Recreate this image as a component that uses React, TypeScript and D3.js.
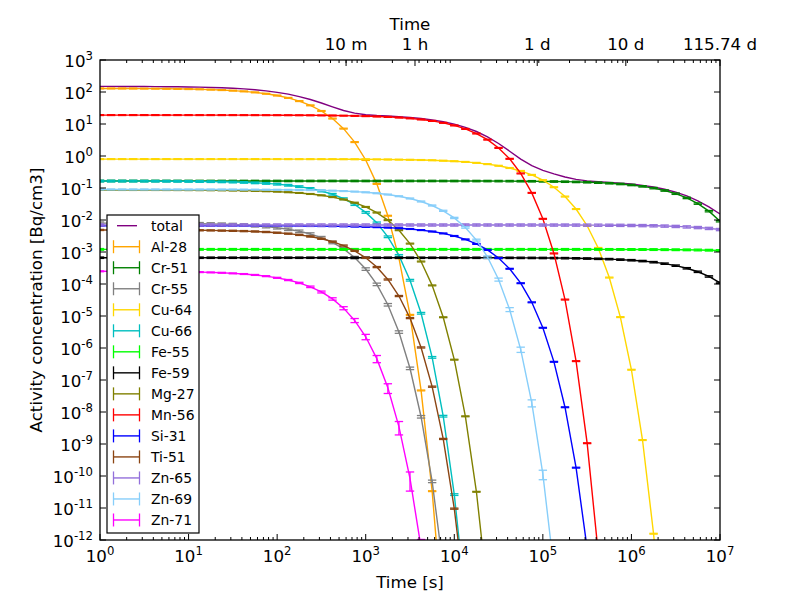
import React from "react";
import * as d3 from "d3";

// Sample times [s] shared by every nuclide series
const TIME_S = [
  1, 1.334, 1.778, 2.371, 3.162, 4.217, 5.623, 7.499,
  10, 13.34, 17.78, 23.71, 31.62, 42.17, 56.23, 74.99,
  100, 133.4, 177.8, 237.1, 316.2, 421.7, 562.3, 749.9,
  1000, 1334, 1778, 2371, 3162, 4217, 5623, 7499,
  1e4, 1.334e4, 1.778e4, 2.371e4, 3.162e4, 4.217e4, 5.623e4, 7.499e4,
  1e5, 1.334e5, 1.778e5, 2.371e5, 3.162e5, 4.217e5, 5.623e5, 7.499e5,
  1e6, 1.334e6, 1.778e6, 2.371e6, 3.162e6, 4.217e6, 5.623e6, 7.499e6,
  1e7,
];

// Activity concentrations [Bq/cm3] at TIME_S
const TOTAL = [
  149.6, 149.4, 149.1, 148.7, 148.2, 147.5, 146.6, 145.4,
  143.8, 141.7, 138.9, 135.3, 130.7, 124.9, 117.5, 108.5,
  97.7, 85.5, 72.0, 58.2, 45.3, 34.4, 26.5, 21.8,
  19.47, 18.39, 17.69, 16.93, 15.99, 14.84, 13.43, 11.76,
  9.89, 7.86, 5.83, 3.97, 2.46, 1.41, 0.798, 0.498,
  0.356, 0.2754, 0.2204, 0.1857, 0.1668, 0.1569, 0.1499, 0.1422,
  0.1328, 0.1212, 0.1075, 0.0916, 0.0743, 0.0565, 0.0398, 0.0257,
  0.0154,
];

const AL_28 = [
  129.3, 129.1, 128.8, 128.4, 127.9, 127.2, 126.3, 125.1,
  123.5, 121.4, 118.6, 115.0, 110.4, 104.6, 97.3, 88.3,
  77.6, 65.4, 52.0, 38.3, 25.5, 14.8, 7.17, 2.72,
  0.751, 0.1345, 0.01359, 6.40e-4, 1.085e-5, 4.72e-8, 3.36e-11, 2.12e-15,
];

const CR_51 = [
  0.166, 0.166, 0.166, 0.166, 0.166, 0.166, 0.166, 0.166,
  0.166, 0.166, 0.166, 0.166, 0.166, 0.166, 0.166, 0.166,
  0.166, 0.166, 0.166, 0.166, 0.166, 0.166, 0.166, 0.166,
  0.166, 0.166, 0.166, 0.166, 0.166, 0.166, 0.166, 0.1656,
  0.1655, 0.1654, 0.1651, 0.1649, 0.1645, 0.1640, 0.1633, 0.1624,
  0.1613, 0.1597, 0.1577, 0.1550, 0.1515, 0.1469, 0.1411, 0.1336,
  0.1243, 0.1128, 0.0992, 0.0835, 0.0664, 0.0489, 0.0326, 0.0189,
  9.17e-3,
];

const CR_55 = [
  7.97e-3, 7.96e-3, 7.95e-3, 7.94e-3, 7.92e-3, 7.89e-3, 7.85e-3, 7.80e-3,
  7.74e-3, 7.66e-3, 7.54e-3, 7.40e-3, 7.21e-3, 6.96e-3, 6.64e-3, 6.24e-3,
  5.75e-3, 5.15e-3, 4.45e-3, 3.65e-3, 2.81e-3, 1.99e-3, 1.25e-3, 6.72e-4,
  2.94e-4, 9.77e-5, 2.25e-5, 3.16e-6, 2.32e-7, 7.11e-9, 6.82e-11, 1.39e-13,
];

const CU_64 = [
  0.800, 0.800, 0.800, 0.800, 0.800, 0.800, 0.800, 0.800,
  0.800, 0.800, 0.800, 0.800, 0.800, 0.800, 0.799, 0.799,
  0.799, 0.798, 0.798, 0.797, 0.796, 0.795, 0.793, 0.791,
  0.788, 0.784, 0.779, 0.772, 0.763, 0.750, 0.735, 0.714,
  0.687, 0.654, 0.611, 0.558, 0.495, 0.422, 0.341, 0.257,
  0.176, 0.1060, 0.0540, 0.0220, 6.62e-3, 1.34e-3, 1.59e-4, 9.24e-6,
  2.09e-7, 1.33e-9, 1.57e-12, 1.9e-16,
];

const CU_66 = [
  0.1646, 0.1645, 0.1643, 0.1641, 0.1638, 0.1634, 0.1629, 0.1622,
  0.1613, 0.1601, 0.1585, 0.1564, 0.1536, 0.1500, 0.1453, 0.1393,
  0.1317, 0.1221, 0.1105, 0.0966, 0.0808, 0.0637, 0.0464, 0.0304,
  0.01729, 8.15e-3, 2.99e-3, 7.84e-4, 1.315e-4, 1.22e-5, 5.10e-7, 7.41e-9,
  2.63e-11, 1.42e-14,
];

const FE_55 = [
  1.21e-3, 1.21e-3, 1.21e-3, 1.21e-3, 1.21e-3, 1.21e-3, 1.21e-3, 1.21e-3,
  1.21e-3, 1.21e-3, 1.21e-3, 1.21e-3, 1.21e-3, 1.21e-3, 1.21e-3, 1.21e-3,
  1.21e-3, 1.21e-3, 1.21e-3, 1.21e-3, 1.21e-3, 1.21e-3, 1.21e-3, 1.21e-3,
  1.21e-3, 1.21e-3, 1.21e-3, 1.21e-3, 1.21e-3, 1.21e-3, 1.21e-3, 1.21e-3,
  1.21e-3, 1.21e-3, 1.21e-3, 1.21e-3, 1.21e-3, 1.21e-3, 1.21e-3, 1.21e-3,
  1.209e-3, 1.208e-3, 1.208e-3, 1.208e-3, 1.207e-3, 1.206e-3, 1.205e-3, 1.203e-3,
  1.200e-3, 1.197e-3, 1.193e-3, 1.187e-3, 1.180e-3, 1.170e-3, 1.157e-3, 1.140e-3,
  1.117e-3,
];

const FE_59 = [
  6.63e-4, 6.63e-4, 6.63e-4, 6.63e-4, 6.63e-4, 6.63e-4, 6.63e-4, 6.63e-4,
  6.63e-4, 6.63e-4, 6.63e-4, 6.63e-4, 6.63e-4, 6.63e-4, 6.63e-4, 6.63e-4,
  6.63e-4, 6.63e-4, 6.63e-4, 6.63e-4, 6.63e-4, 6.63e-4, 6.63e-4, 6.63e-4,
  6.63e-4, 6.63e-4, 6.63e-4, 6.63e-4, 6.62e-4, 6.62e-4, 6.62e-4, 6.62e-4,
  6.62e-4, 6.61e-4, 6.61e-4, 6.60e-4, 6.59e-4, 6.58e-4, 6.56e-4, 6.54e-4,
  6.51e-4, 6.47e-4, 6.42e-4, 6.35e-4, 6.26e-4, 6.14e-4, 5.99e-4, 5.79e-4,
  5.54e-4, 5.21e-4, 4.81e-4, 4.32e-4, 3.75e-4, 3.10e-4, 2.41e-4, 1.72e-4,
  1.09e-4,
];

const MG_27 = [
  0.0869, 0.0869, 0.0868, 0.0867, 0.0867, 0.0866, 0.0864, 0.0862,
  0.0859, 0.0856, 0.0851, 0.0845, 0.0837, 0.0826, 0.0812, 0.0794,
  0.0770, 0.0739, 0.0700, 0.0651, 0.0591, 0.0520, 0.0438, 0.0348,
  0.0256, 0.01707, 9.91e-3, 4.80e-3, 1.83e-3, 5.04e-4, 9.05e-5, 9.15e-6,
  4.31e-7, 7.34e-9, 3.21e-11, 2.29e-14,
];

const MN_56 = [
  19.0, 19.0, 19.0, 19.0, 19.0, 19.0, 19.0, 19.0,
  18.99, 18.98, 18.97, 18.97, 18.96, 18.94, 18.92, 18.89,
  18.86, 18.81, 18.75, 18.67, 18.56, 18.41, 18.22, 17.97,
  17.63, 17.20, 16.64, 15.92, 15.00, 13.87, 12.49, 10.85,
  9.01, 7.02, 5.04, 3.24, 1.79, 0.816, 0.285, 0.0704,
  0.01087, 9.02e-4, 3.26e-5, 3.89e-7, 1.06e-9, 4.03e-13,
];

const SI_31 = [
  6.60e-3, 6.60e-3, 6.60e-3, 6.60e-3, 6.60e-3, 6.60e-3, 6.60e-3, 6.60e-3,
  6.60e-3, 6.60e-3, 6.59e-3, 6.59e-3, 6.58e-3, 6.58e-3, 6.57e-3, 6.56e-3,
  6.55e-3, 6.54e-3, 6.51e-3, 6.49e-3, 6.45e-3, 6.40e-3, 6.33e-3, 6.25e-3,
  6.13e-3, 5.98e-3, 5.79e-3, 5.55e-3, 5.24e-3, 4.84e-3, 4.37e-3, 3.81e-3,
  3.17e-3, 2.48e-3, 1.79e-3, 1.16e-3, 6.48e-4, 2.99e-4, 1.06e-4, 2.68e-5,
  4.28e-6, 3.70e-7, 1.41e-8, 1.82e-10, 5.46e-13,
];

const TI_51 = [
  4.89e-3, 4.89e-3, 4.88e-3, 4.88e-3, 4.87e-3, 4.86e-3, 4.85e-3, 4.83e-3,
  4.80e-3, 4.77e-3, 4.73e-3, 4.67e-3, 4.60e-3, 4.50e-3, 4.38e-3, 4.22e-3,
  4.01e-3, 3.75e-3, 3.43e-3, 3.05e-3, 2.60e-3, 2.10e-3, 1.59e-3, 1.089e-3,
  6.59e-4, 3.38e-4, 1.384e-4, 4.21e-5, 8.62e-6, 1.040e-6, 6.19e-8, 1.44e-9,
  9.54e-12, 1.19e-14,
];

const ZN_65 = [
  7.00e-3, 7.00e-3, 7.00e-3, 7.00e-3, 7.00e-3, 7.00e-3, 7.00e-3, 7.00e-3,
  7.00e-3, 7.00e-3, 7.00e-3, 7.00e-3, 7.00e-3, 7.00e-3, 7.00e-3, 7.00e-3,
  7.00e-3, 7.00e-3, 7.00e-3, 7.00e-3, 7.00e-3, 7.00e-3, 7.00e-3, 7.00e-3,
  7.00e-3, 7.00e-3, 7.00e-3, 7.00e-3, 7.00e-3, 7.00e-3, 7.00e-3, 7.00e-3,
  7.00e-3, 7.00e-3, 7.00e-3, 7.00e-3, 6.99e-3, 6.99e-3, 6.99e-3, 6.99e-3,
  6.98e-3, 6.97e-3, 6.96e-3, 6.95e-3, 6.93e-3, 6.90e-3, 6.87e-3, 6.83e-3,
  6.77e-3, 6.70e-3, 6.60e-3, 6.47e-3, 6.31e-3, 6.09e-3, 5.82e-3, 5.47e-3,
  5.04e-3,
];

const ZN_69 = [
  0.0900, 0.0900, 0.0900, 0.0900, 0.0899, 0.0899, 0.0899, 0.0899,
  0.0898, 0.0898, 0.0897, 0.0896, 0.0894, 0.0892, 0.0890, 0.0886,
  0.0882, 0.0876, 0.0868, 0.0857, 0.0844, 0.0826, 0.0802, 0.0772,
  0.0733, 0.0685, 0.0625, 0.0554, 0.0471, 0.0379, 0.0284, 0.0194,
  0.01161, 5.86e-3, 2.36e-3, 6.99e-4, 1.38e-4, 1.60e-5, 8.95e-7, 1.92e-8,
  1.14e-10, 1.24e-13,
];

const ZN_71 = [
  2.49e-4, 2.48e-4, 2.48e-4, 2.47e-4, 2.46e-4, 2.45e-4, 2.43e-4, 2.41e-4,
  2.38e-4, 2.35e-4, 2.30e-4, 2.24e-4, 2.15e-4, 2.05e-4, 1.92e-4, 1.76e-4,
  1.56e-4, 1.33e-4, 1.081e-4, 8.17e-5, 5.63e-5, 3.42e-5, 1.76e-5, 7.28e-6,
  2.24e-6, 4.65e-7, 5.71e-8, 3.48e-9, 8.37e-11, 5.79e-13,
];

// Relative uncertainties that grow with time for the two zinc isotopes
const ZN_69_ERR = [
  0.03, 0.03, 0.03, 0.03, 0.03, 0.03, 0.03, 0.03,
  0.03, 0.03, 0.03, 0.03, 0.03, 0.03, 0.03, 0.03,
  0.03, 0.03, 0.03, 0.03, 0.03, 0.03, 0.03, 0.03,
  0.03, 0.03, 0.03, 0.03, 0.032, 0.033, 0.035, 0.039,
  0.044, 0.053, 0.066, 0.083, 0.108, 0.141, 0.187, 0.248,
  0.329, 0.438,
];

const ZN_71_ERR = [
  0.03, 0.03, 0.03, 0.03, 0.03, 0.03, 0.03, 0.03,
  0.03, 0.03, 0.03, 0.03, 0.03, 0.03, 0.032, 0.033,
  0.035, 0.039, 0.045, 0.054, 0.067, 0.085, 0.110, 0.145,
  0.191, 0.253, 0.337, 0.448, 0.597, 0.796,
];

const SERIES_NAMES = [
  "Al-28", "Cr-51", "Cr-55", "Cu-64", "Cu-66", "Fe-55", "Fe-59",
  "Mg-27", "Mn-56", "Si-31", "Ti-51", "Zn-65", "Zn-69", "Zn-71",
];
const SERIES_VALUES = [
  AL_28, CR_51, CR_55, CU_64, CU_66, FE_55, FE_59,
  MG_27, MN_56, SI_31, TI_51, ZN_65, ZN_69, ZN_71,
];
const SERIES_REL_ERR: (number | number[])[] = [
  0.03, 0.05, 0.09, 0.03, 0.06, 0.06, 0.05,
  0.03, 0.03, 0.03, 0.04, 0.08, ZN_69_ERR, ZN_71_ERR,
];
const SERIES_COLORS = [
  "#ffa500", "#008000", "#808080", "#ffd700", "#00bfbf", "#00ff00", "#000000",
  "#808000", "#ff0000", "#0000ff", "#8b4513", "#9370db", "#87cefa", "#ff00ff",
];
const TOTAL_COLOR = "#800080";

const Y_TICK_EXP = [-12, -11, -10, -9, -8, -7, -6, -5, -4, -3, -2, -1, 0, 1, 2, 3];
const X_TICK_EXP = [0, 1, 2, 3, 4, 5, 6, 7];
const TOP_TICK_S = [600, 3600, 86400, 864000, 1e7];
const TOP_TICK_LABELS = ["10 m", "1 h", "1 d", "10 d", "115.74 d"];

const FONT = "DejaVu Sans, sans-serif";
const M = { left: 100, right: 720, top: 60, bottom: 540 };

export default function App() {
  const x = d3.scaleLog().domain([1, 1e7]).range([M.left, M.right]);
  const y = d3.scaleLog().domain([1e-12, 1e3]).range([M.bottom, M.top]);
  const line = d3
    .line<[number, number]>()
    .x((d) => x(d[0]))
    .y((d) => y(d[1]));

  const allXTicks = x.ticks();
  const isDecade = (t: number) =>
    Math.abs(Math.log10(t) - Math.round(Math.log10(t))) < 1e-9;
  const minorX = allXTicks.filter((t) => !isDecade(t));

  const lw = 1.4;
  const cap = 4.2;

  const legendEntries = ["total", ...SERIES_NAMES];
  const legendColors = [TOTAL_COLOR, ...SERIES_COLORS];
  const legTop = 225.7;
  const legStep = 21.02;

  return (
    <svg
      width={800}
      height={600}
      style={{ position: "absolute", left: 0, top: 0, background: "#fff" }}
      fontFamily={FONT}
    >
      <defs>
        <clipPath id="plot-area">
          <rect x={M.left} y={M.top} width={M.right - M.left} height={M.bottom - M.top} />
        </clipPath>
      </defs>
      <rect x={0} y={0} width={800} height={600} fill="#fff" />

      <g clipPath="url(#plot-area)">
        <path
          d={line(TIME_S.map((t, i) => [t, TOTAL[i]] as [number, number])) || ""}
          fill="none"
          stroke={TOTAL_COLOR}
          strokeWidth={lw}
        />
        {SERIES_VALUES.map((vals, si) => {
          const color = SERIES_COLORS[si];
          const errSpec = SERIES_REL_ERR[si];
          const pts = vals.map((v, i) => [TIME_S[i], v] as [number, number]);
          return (
            <g key={SERIES_NAMES[si]}>
              <path d={line(pts) || ""} fill="none" stroke={color} strokeWidth={lw} />
              {pts.map(([t, v], i) => {
                const e = Array.isArray(errSpec) ? errSpec[i] : errSpec;
                const px = x(t);
                const yHi = y(v * (1 + e));
                const yLo = y(Math.max(v * (1 - e), 1e-30));
                return (
                  <g key={i} stroke={color} strokeWidth={1.3}>
                    <line x1={px} x2={px} y1={yHi} y2={yLo} />
                    <line x1={px - cap} x2={px + cap} y1={yHi} y2={yHi} />
                    <line x1={px - cap} x2={px + cap} y1={yLo} y2={yLo} />
                  </g>
                );
              })}
            </g>
          );
        })}
      </g>

      {/* axes frame */}
      <rect
        x={M.left}
        y={M.top}
        width={M.right - M.left}
        height={M.bottom - M.top}
        fill="none"
        stroke="#000"
        strokeWidth={1.3}
      />

      {/* bottom axis ticks */}
      {X_TICK_EXP.map((e) => {
        const px = x(Math.pow(10, e));
        return (
          <g key={"bx" + e}>
            <line x1={px} x2={px} y1={M.bottom} y2={M.bottom - 6} stroke="#000" strokeWidth={1} />
            <text x={px} y={561.5} textAnchor="middle" fontSize={16.67} fill="#000">
              10
              <tspan dy={-6.5} fontSize={11.7}>
                {String(e)}
              </tspan>
            </text>
          </g>
        );
      })}
      {minorX.map((t, i) => (
        <line
          key={"bm" + i}
          x1={x(t)}
          x2={x(t)}
          y1={M.bottom}
          y2={M.bottom - 3}
          stroke="#000"
          strokeWidth={1}
        />
      ))}

      {/* top (secondary) axis ticks */}
      {minorX.map((t, i) => (
        <line
          key={"tm" + i}
          x1={x(t)}
          x2={x(t)}
          y1={M.top}
          y2={M.top + 3}
          stroke="#000"
          strokeWidth={1}
        />
      ))}
      {TOP_TICK_S.map((t, i) => (
        <g key={"tt" + i}>
          <line x1={x(t)} x2={x(t)} y1={M.top} y2={M.top + 6} stroke="#000" strokeWidth={1} />
          <text x={x(t)} y={50} textAnchor="middle" fontSize={16.67} fill="#000">
            {TOP_TICK_LABELS[i]}
          </text>
        </g>
      ))}

      {/* left and right axis ticks */}
      {Y_TICK_EXP.map((e) => {
        const py = y(Math.pow(10, e));
        return (
          <g key={"y" + e}>
            <line x1={M.left} x2={M.left + 6} y1={py} y2={py} stroke="#000" strokeWidth={1} />
            <line x1={M.right} x2={M.right - 6} y1={py} y2={py} stroke="#000" strokeWidth={1} />
            <text x={93} y={py + 6.5} textAnchor="end" fontSize={16.67} fill="#000">
              10
              <tspan dy={-6.5} fontSize={11.7}>
                {String(e)}
              </tspan>
            </text>
          </g>
        );
      })}

      {/* axis titles */}
      <text x={410} y={588} textAnchor="middle" fontSize={16.67} fill="#000">
        Time [s]
      </text>
      <text x={410} y={30} textAnchor="middle" fontSize={16.67} fill="#000">
        Time
      </text>
      <text
        transform="translate(42,300) rotate(-90)"
        textAnchor="middle"
        fontSize={16.67}
        fill="#000"
      >
        Activity concentration [Bq/cm3]
      </text>

      {/* legend */}
      <rect x={107} y={215} width={92} height={318} fill="#fff" stroke="#000" strokeWidth={1.2} />
      {legendEntries.map((name, i) => {
        const cy = legTop + i * legStep;
        const color = legendColors[i];
        return (
          <g key={"leg" + name}>
            {i === 0 ? (
              <line x1={117} x2={137} y1={cy} y2={cy} stroke={color} strokeWidth={lw} />
            ) : (
              <g stroke={color} strokeWidth={1.3}>
                <line x1={113.5} x2={139.5} y1={cy} y2={cy} strokeWidth={lw} />
                <line x1={113.5} x2={113.5} y1={cy - 6.5} y2={cy + 6.5} />
                <line x1={139.5} x2={139.5} y1={cy - 6.5} y2={cy + 6.5} />
              </g>
            )}
            <text x={151} y={cy + 5.3} fontSize={13.9} fill="#000">
              {name}
            </text>
          </g>
        );
      })}
    </svg>
  );
}
